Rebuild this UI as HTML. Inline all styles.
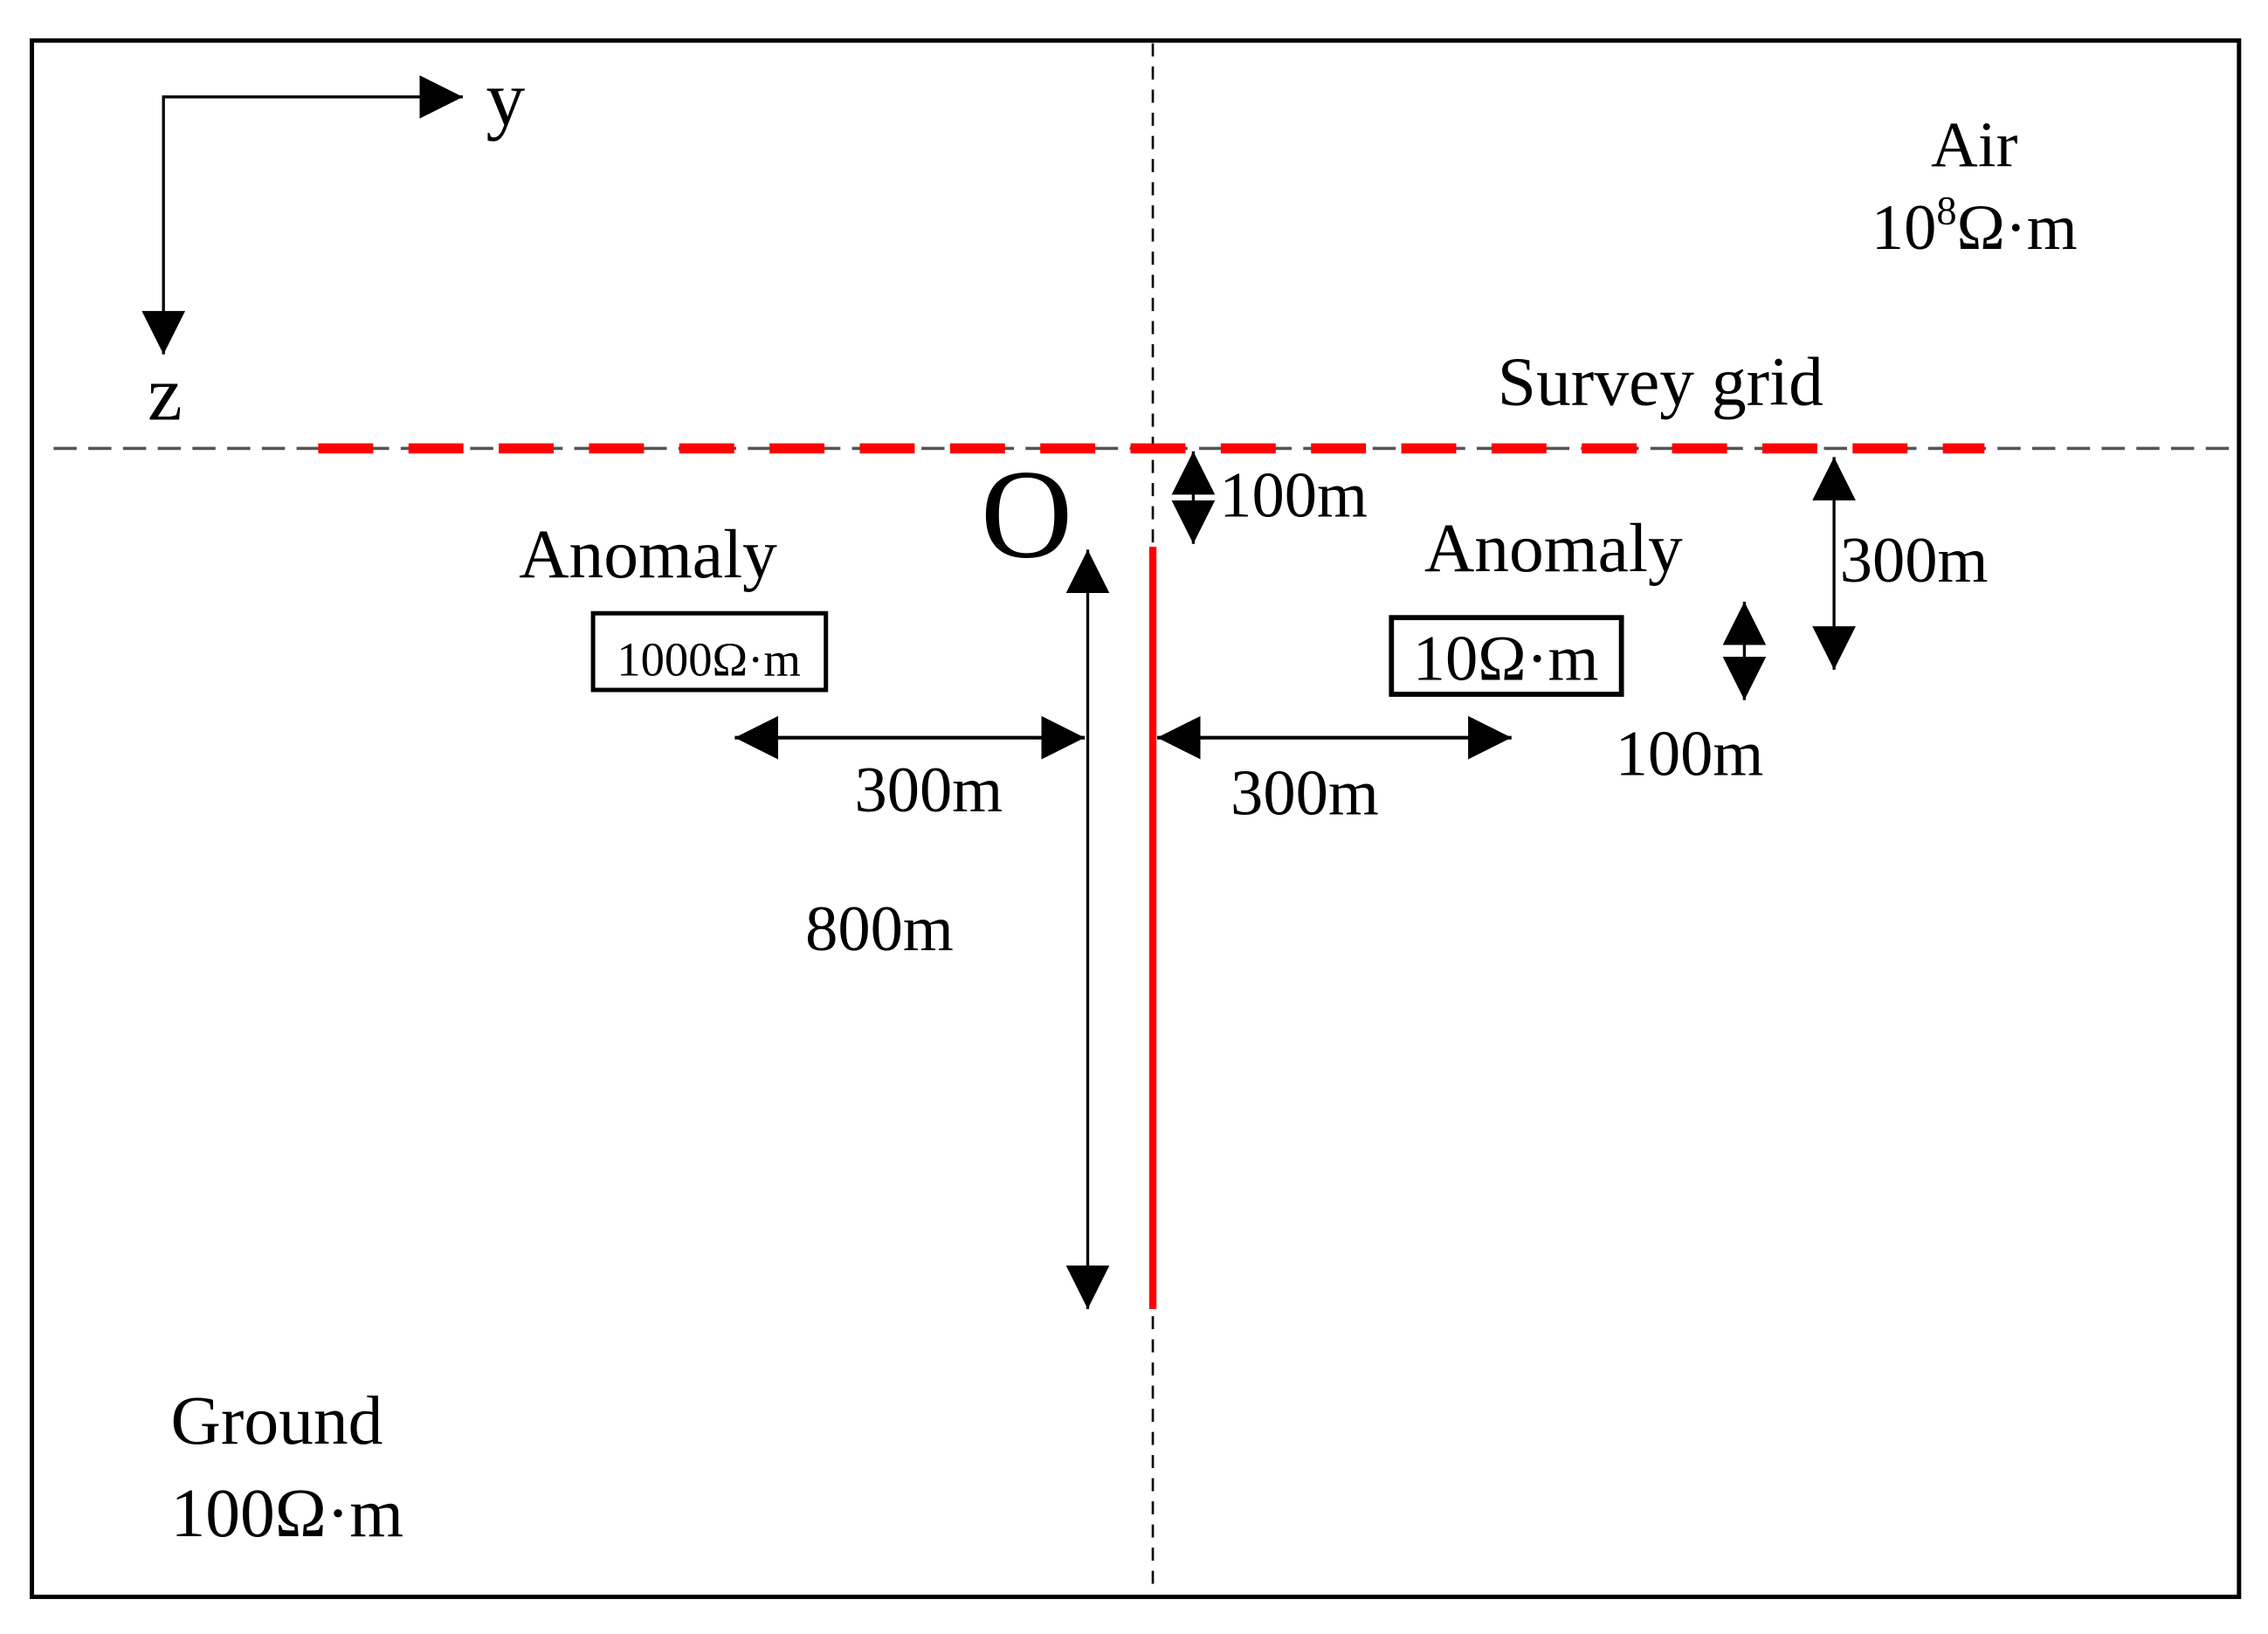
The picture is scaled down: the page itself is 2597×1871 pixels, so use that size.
<!DOCTYPE html>
<html><head><meta charset="utf-8"><style>html,body{margin:0;padding:0;background:#fff}svg{display:block}</style></head>
<body>
<svg width="2597" height="1871" viewBox="0 0 1568 1129.7" xmlns="http://www.w3.org/2000/svg" font-family="'Liberation Serif', serif" fill="#000">
<defs>
<marker id="b" viewBox="0 0 10 10" refX="10" refY="5" markerWidth="30" markerHeight="30" markerUnits="userSpaceOnUse" orient="auto-start-reverse"><path d="M0,0L10,5L0,10z"/></marker>
</defs>
<rect x="22" y="28" width="1526" height="1076" fill="none" stroke="#000" stroke-width="3"/>
<line x1="797" y1="30" x2="797" y2="1102" stroke="#000" stroke-width="1.6" stroke-dasharray="9,7"/>
<line x1="37" y1="310" x2="1545" y2="310" stroke="#555" stroke-width="2.2" stroke-dasharray="16,8"/>
<line x1="220" y1="310" x2="1372" y2="310" stroke="#f00" stroke-width="7" stroke-dasharray="38,24.4"/>
<polyline points="320,67 113,67 113,245" fill="none" stroke="#000" stroke-width="2" marker-start="url(#b)" marker-end="url(#b)"/>
<text x="336" y="86" font-size="54">y</text>
<text x="102" y="290" font-size="54">z</text>
<line x1="797" y1="378" x2="797" y2="905" stroke="#f00" stroke-width="5"/>
<line x1="752" y1="380" x2="752" y2="905" stroke="#000" stroke-width="2" marker-start="url(#b)" marker-end="url(#b)"/>
<text x="678" y="385" font-size="88">O</text>
<line x1="825" y1="312" x2="825" y2="376" stroke="#000" stroke-width="2" marker-start="url(#b)" marker-end="url(#b)"/>
<text x="843" y="357" font-size="45">100m</text>
<text x="448" y="399" font-size="48" text-anchor="middle">Anomaly</text>
<rect x="410" y="424" width="161" height="53" fill="none" stroke="#000" stroke-width="3"/>
<text x="490" y="467" font-size="33" text-anchor="middle">1000Ω·m</text>
<line x1="508" y1="510" x2="750" y2="510" stroke="#000" stroke-width="2.5" marker-start="url(#b)" marker-end="url(#b)"/>
<text x="642" y="561" font-size="45" text-anchor="middle">300m</text>
<line x1="800" y1="510" x2="1045" y2="510" stroke="#000" stroke-width="2.5" marker-start="url(#b)" marker-end="url(#b)"/>
<text x="902" y="563" font-size="45" text-anchor="middle">300m</text>
<text x="608" y="657" font-size="45" text-anchor="middle">800m</text>
<text x="1074" y="395" font-size="48" text-anchor="middle">Anomaly</text>
<rect x="962" y="427" width="159" height="53" fill="none" stroke="#000" stroke-width="3.5"/>
<text x="1041" y="470" font-size="45" text-anchor="middle">10Ω·m</text>
<line x1="1206" y1="416" x2="1206" y2="484" stroke="#000" stroke-width="2" marker-start="url(#b)" marker-end="url(#b)"/>
<text x="1168" y="536" font-size="45" text-anchor="middle">100m</text>
<line x1="1268" y1="316" x2="1268" y2="463" stroke="#000" stroke-width="2" marker-start="url(#b)" marker-end="url(#b)"/>
<text x="1272" y="402" font-size="45">300m</text>
<text x="1148" y="280" font-size="48" text-anchor="middle">Survey grid</text>
<text x="1365" y="115" font-size="45" text-anchor="middle">Air</text>
<text x="1365" y="172" font-size="45" text-anchor="middle">10<tspan font-size="28" dy="-17">8</tspan><tspan dy="17">Ω·m</tspan></text>
<text x="118" y="998" font-size="48">Ground</text>
<text x="118" y="1062" font-size="48">100Ω·m</text>
</svg>
</body></html>
